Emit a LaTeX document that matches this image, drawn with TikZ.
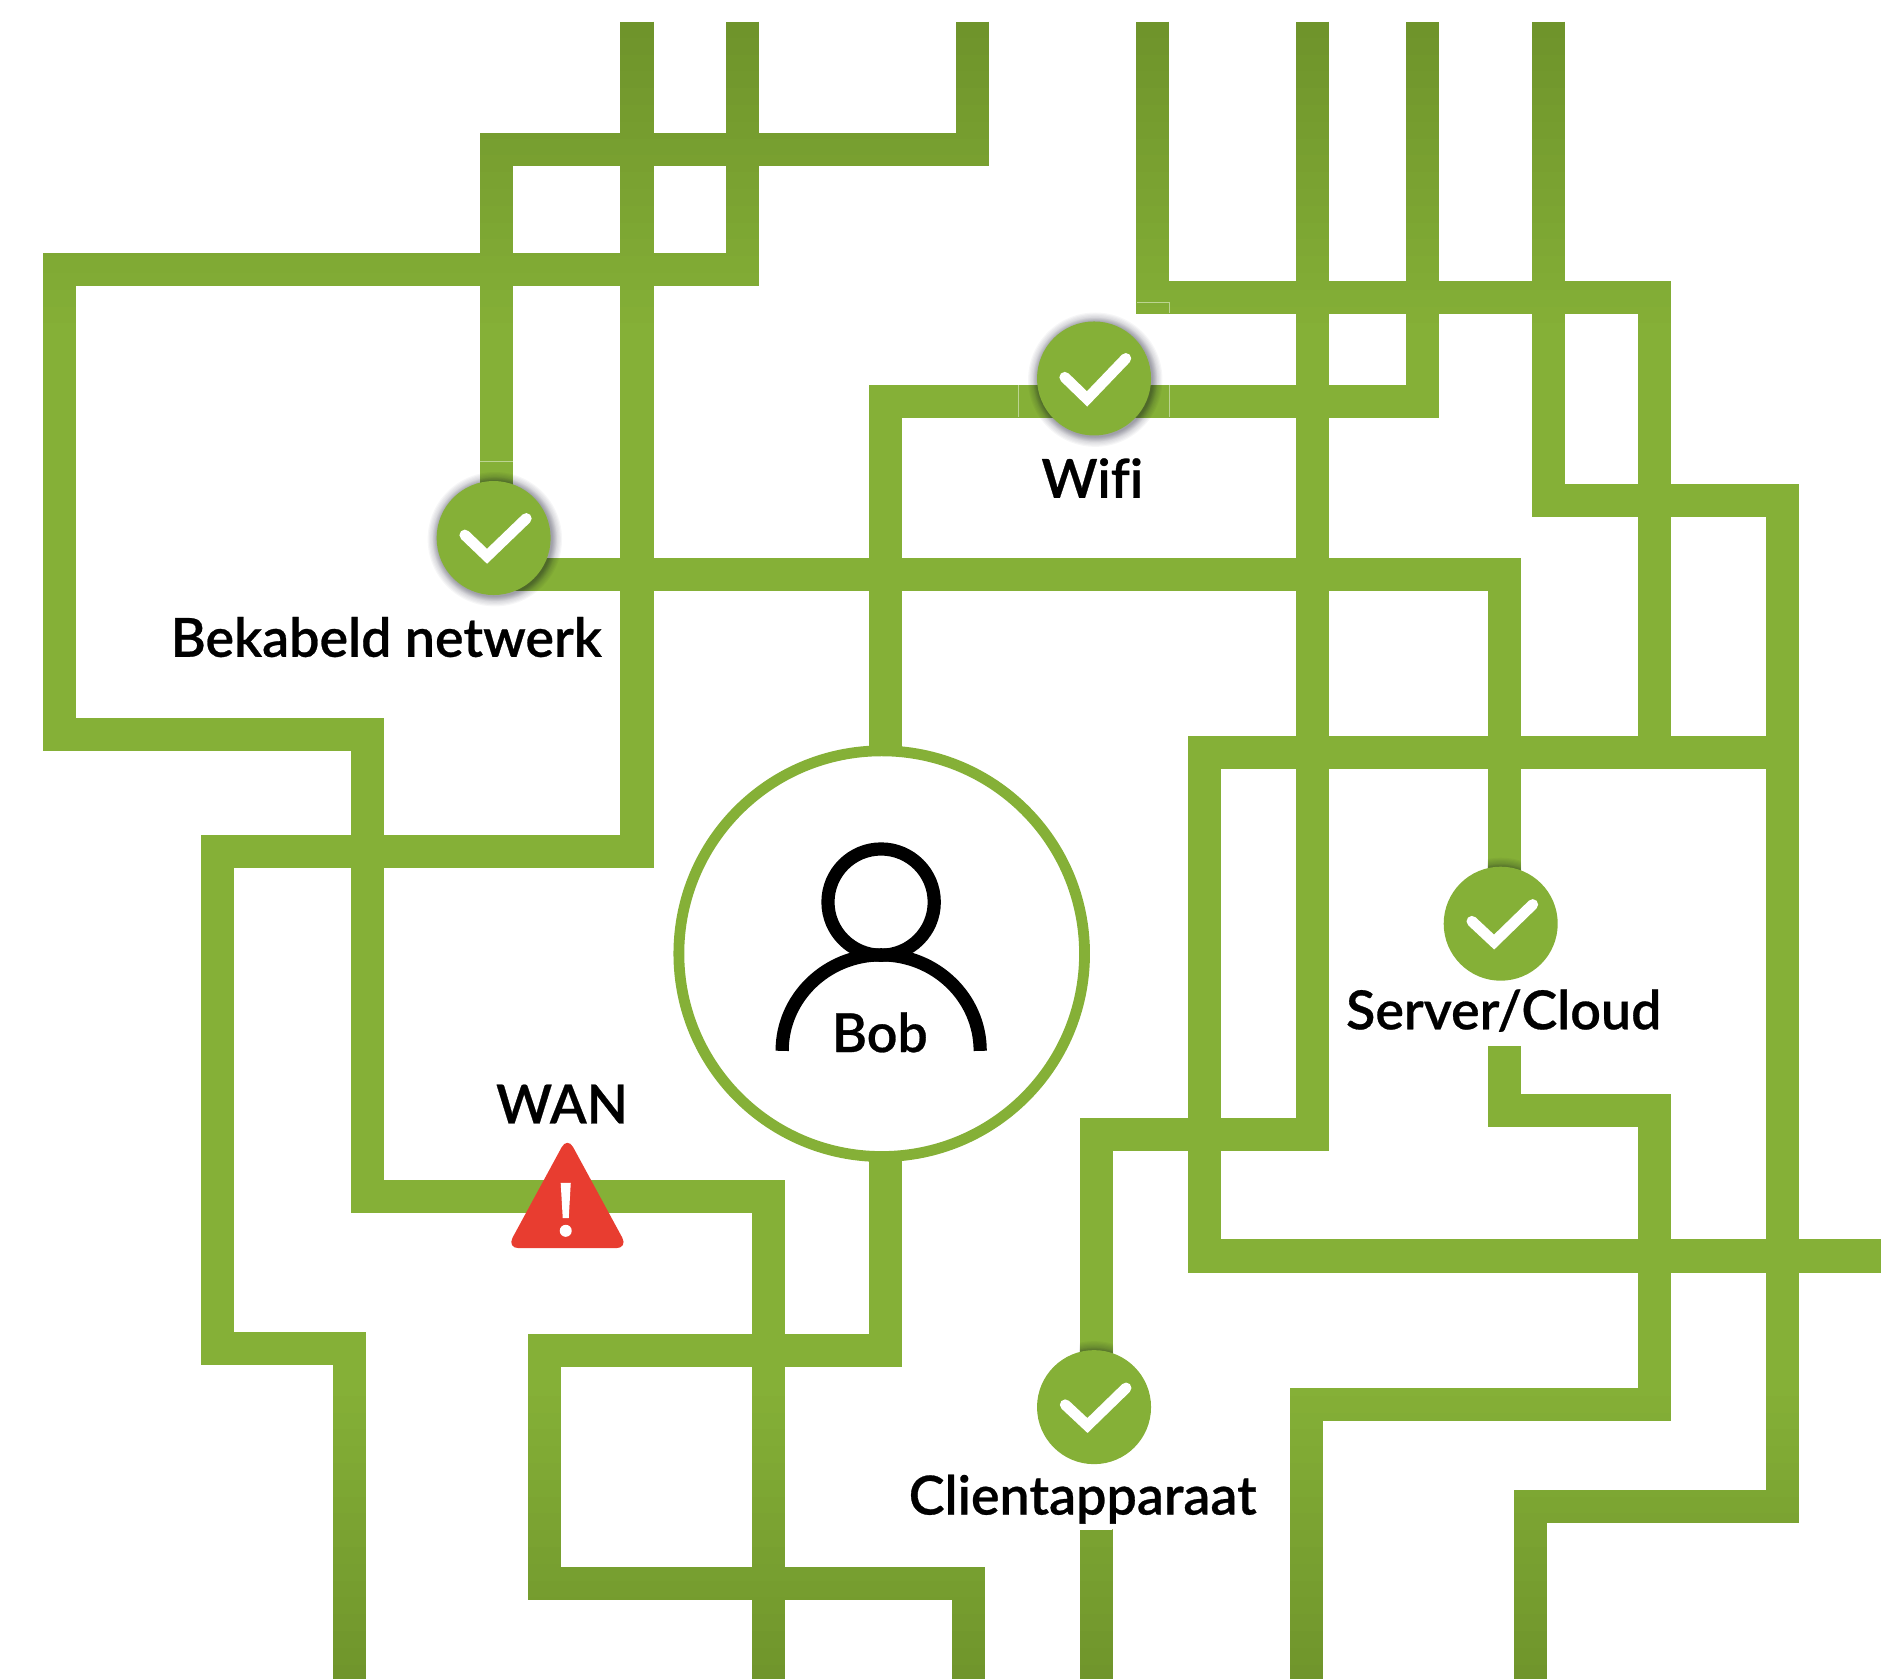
\documentclass[tikz,border=0pt]{standalone}
\usepackage{fontspec}
\setmainfont{Lato}[BoldFont={Lato Semibold},BoldFeatures={FakeBold=0.5},Ligatures=NoCommon]
\usepackage{tikz}
\usetikzlibrary{calc}
\definecolor{cablegreen}{HTML}{85B037}
\definecolor{cabledark}{HTML}{6F942B}
\definecolor{warnred}{HTML}{E83D30}
\tikzset{
  cable/.style={cablenow,line width=.275cm},
  okdot/.style={circle,fill=cablegreen,minimum size=.95cm,inner sep=0pt},
  tick/.style={white,line width=.09cm,line cap=round},
  label/.style={anchor=base,inner sep=0pt,font=\fontsize{12.75pt}{15pt}\selectfont\bfseries},
  seam/.style={cablegreen!55!white,line width=.2pt},
  ring/.style={black!90!blue,opacity=.035}
}
\newcommand\cables{
\draw[cable] (531,18)--(531,710)--(181,710)--(181,1124)--(291,1124)--(291,1400);
\draw[cable] (619,18)--(619,225)--(50,225)--(50,612)--(306,612)--(306,997)--(641,997)--(641,1400);
\draw[cable] (811,18)--(811,125)--(414,125)--(bektop);
\draw[cable] (bekright)--(1254,479)--(srvtop);
\draw[cable] (bobtop)--(738,335)--(1186,335)--(1186,18);
\draw[cable] (961,18)--(961,248)--(1379,248)--(1379,627);
\draw[cable] (1486,627)--(1004,627)--(1004,1047)--(1568,1047);
\draw[cable] (1291,18)--(1291,417)--(1486,417)--(1486,1256)--(1276,1256)--(1276,1400);
\draw[cable] (1094,18)--(1094,946)--(914,946)--(clitop);
\draw[cable] (bobbot)--(738,1126)--(454,1126)--(454,1320)--(807,1320)--(807,1400);
\draw[cable] (clibot)--(914,1400);
\draw[cable] (srvbot)--(1254,926)--(1379,926)--(1379,1171)--(1089,1171)--(1089,1400);
}
\begin{document}
\begin{tikzpicture}[x=.01cm,y=-.01cm]

\useasboundingbox (0,0) rectangle (1568,1400);

\coordinate (bektop) at (414,440);
\coordinate (bekright) at (425,479);
\coordinate (srvtop) at (1254,740);
\coordinate (srvbot) at (1254,872);
\coordinate (clitop) at (914,1150);
\coordinate (clibot) at (914,1275);
\coordinate (bobtop) at (738,700);
\coordinate (bobbot) at (738,900);

% each pass repaints from y downwards, so the ends of the cables go darker
\foreach \y in {18,32,...,270,1150,1164,...,1388}{
  \pgfmathtruncatemacro\m{min(100,100*min((\y-18)/252,(1400-\y)/250))}
  \colorlet{cablenow}{cablegreen!\m!cabledark}
  \begin{scope}
    \clip (0,\y) rectangle (1568,1400);
    \cables
  \end{scope}
}

% seams of the pasted patches
\draw[seam] (400,385)--(428,385);
\draw[seam] (849,321)--(849,348);
\draw[seam] (975,321)--(975,348);
\draw[seam] (948,252)--(975,252)--(975,261);

% shadows
\foreach \r in {48,48.5,49,49.5,50,50.5,51,51.5,52,53,54,55,56}{
  \fill[ring] (412.5,449.5) circle[radius=\r];
  \fill[ring] (913,316.5) circle[radius=\r];
}
\begin{scope}
  \clip (1240,705) rectangle (1268,730);
  \foreach \r in {48,48.5,49,49.5,50,51,52,53,54,55} \fill[ring] (1251,770) circle[radius=\r];
\end{scope}
\begin{scope}
  \clip (900,1108) rectangle (928,1135);
  \foreach \r in {48,48.5,49,49.5,50,51,52,53,54,55} \fill[ring] (912,1173) circle[radius=\r];
\end{scope}

\node[circle,draw=cablegreen,line width=.09cm,fill=white,minimum size=3.38cm,inner sep=0pt,outer sep=0pt] (bob) at (735,795) {};
\draw[black,line width=.11cm] (734.5,752) circle[radius=44.3];
\draw[black,line width=.11cm] (652,876) arc[start angle=180,end angle=0,x radius=.825cm,y radius=.8cm];

\node[okdot] (bek) at (411.5,448.5) {};
\node[okdot] (wifi) at (912,315.5) {};
\node[okdot] (srv) at (1251,770) {};
\node[okdot] (cli) at (912,1173) {};

\draw[tick] ($(bek)+(-24,-2.5)$)--++(18.5,17.7)--++(32.7,-31.5);
\draw[tick] ($(wifi)+(-24.4,-1)$)--++(18.6,18)--++(32.3,-33.7);
\draw[tick] ($(srv)+(-24,-2)$)--++(18.5,17.3)--++(32.2,-31.3);
\draw[tick] ($(cli)+(-24,-2)$)--++(18.5,17.3)--++(32.2,-31.3);

\fill[warnred,rounded corners=.1cm] (473,947.5)--(523.5,1040.5)--(422.5,1040.5)--cycle;
\fill[white] (467.4,986)--(475.8,986)--(474.1,1015.4)--(469.1,1015.4)--cycle;
\fill[white] (471.6,1026) circle[radius=5];

\node[label] (beklabel) at (322,547.5) {Bekabeld netwerk};
\node[label] (wifilabel) at (910.5,415) {Wifi};
\node[label] (boblabel) at (733.5,877) {Bob};
\node[label] (srvlabel) at (1253.5,858) {Server/Cloud};
\node[label] (wanlabel) at (468.5,936.5) {WAN};
\node[label] (clilabel) at (902.5,1262.5) {Clientapparaat};

\end{tikzpicture}
\end{document}
